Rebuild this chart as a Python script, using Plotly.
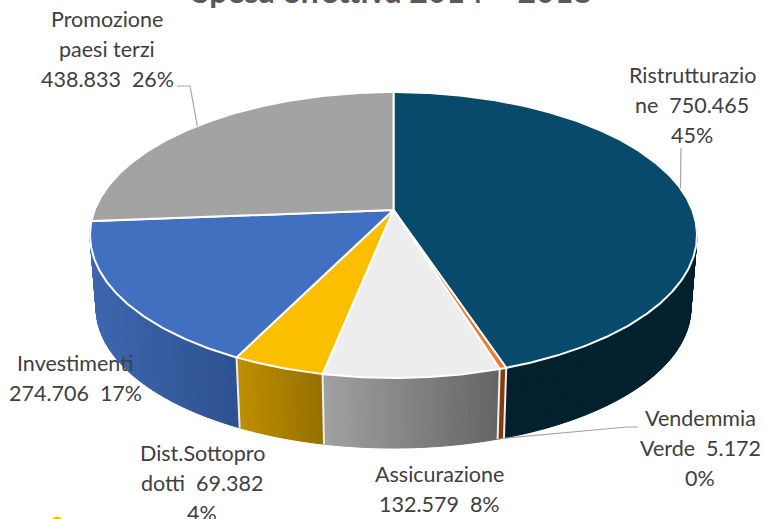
import math
import plotly.graph_objects as go

# ---- data ----
categories = ["Ristrutturazione", "Vendemmia Verde", "Assicurazione",
              "Dist.Sottoprodotti", "Investimenti", "Promozione paesi terzi"]
values = [750465, 5172, 132579, 69382, 274706, 438833]
percent_labels = ["45%", "0%", "8%", "4%", "17%", "26%"]
value_labels = ["750.465", "5.172", "132.579", "69.382", "274.706", "438.833"]
label_lines = [
    ["Ristrutturazio", "ne  750.465", "45%"],
    ["Vendemmia", "Verde  5.172", "0%"],
    ["Assicurazione", "132.579  8%"],
    ["Dist.Sottopro", "dotti  69.382", "4%"],
    ["Investimenti", "274.706  17%"],
    ["Promozione", "paesi terzi", "438.833  26%"],
]
title_text = "Spesa effettiva 2014 ÷ 2018"

# ---- styles ----
top_colors = ["#074A6C", "#ED7D31", "#EDEDED", "#FBBF00", "#4270C0", "#A3A3A3"]
side_left = ["#03202F", "#843C0C", "#A2A2A2", "#BF9000", "#3D66AE", "#8A8A8A"]
side_right = ["#03202F", "#843C0C", "#656565", "#967000", "#2E5190", "#8A8A8A"]
label_pos = [(692, 75), (700, 418), (439, 474), (202, 453), (75, 363), (107, 19)]
LINE_H = 30

# projected-disc geometry (screen px)
CX, CY, A, B, K = 393.5, 210.0, 298.8, 138.6, 0.175
BOT_S, BOT_DY = 0.98, 73.4
WALL_FROM = math.acos(-0.08)  # wall is hidden behind the top face outside this arc


def rim(theta, lower=False):
    X, Y = math.sin(theta), -math.cos(theta)
    w = 1 - K * Y
    s, dy = (BOT_S, BOT_DY) if lower else (1.0, 0.0)
    return CX + s * A * X / w, CY + dy + s * B * Y / w


def mix(c1, c2, t):
    a = [int(c1[i:i + 2], 16) for i in (1, 3, 5)]
    b = [int(c2[i:i + 2], 16) for i in (1, 3, 5)]
    return "rgb(%d,%d,%d)" % tuple(round(p + (q - p) * t) for p, q in zip(a, b))


total = sum(values)
edges = [0.0]
for v in values:
    edges.append(edges[-1] + v / total * 2 * math.pi)

fig = go.Figure()


def poly(xs, ys, fill, line=None, width=0):
    fig.add_trace(go.Scatter(x=xs, y=ys, mode="lines", fill="toself", fillcolor=fill,
                             line=dict(color=line or fill, width=width),
                             hoverinfo="skip", showlegend=False))


# side wall: thin vertical strips, walking from right to left round the front
for i, v in enumerate(values):
    a0, a1 = edges[i], edges[i + 1]
    a0c, a1c = max(a0, WALL_FROM), min(a1, 2 * math.pi - WALL_FROM)
    if a1c <= a0c:
        continue
    n = max(2, int((a1c - a0c) / 0.015))
    xl, xr = rim(a1c)[0], rim(a0c)[0]
    for j in range(n):
        t0 = a0c + (a1c - a0c) * j / n
        t1 = a0c + (a1c - a0c) * (j + 1) / n
        p0, p1 = rim(t0), rim(t1)
        q0, q1 = rim(t1, True), rim(t0, True)
        frac = (p0[0] - xl) / max(xr - xl, 1e-6)
        col = mix(side_left[i], side_right[i], frac)
        poly([p0[0], p1[0], q0[0], q1[0], p0[0]],
             [p0[1], p1[1], q0[1], q1[1], p0[1]], col, width=1)

# white seams on the front of the wall
for i in range(len(values)):
    a = edges[i + 1]
    if math.cos(a) < -0.3:
        p, q = rim(a), rim(a, True)
        fig.add_trace(go.Scatter(x=[p[0], q[0]], y=[p[1], q[1]], mode="lines",
                                 line=dict(color="#EFEFEF", width=2),
                                 hoverinfo="skip", showlegend=False))

# top faces
for i, v in enumerate(values):
    a0, a1 = edges[i], edges[i + 1]
    n = max(3, int((a1 - a0) / 0.01))
    pts = [rim(a0 + (a1 - a0) * j / n) for j in range(n + 1)]
    xs = [CX] + [p[0] for p in pts] + [CX]
    ys = [CY] + [p[1] for p in pts] + [CY]
    poly(xs, ys, top_colors[i], line="#FFFFFF", width=2)

# leader lines (end on the rim at each slice's mid angle)
mid = [(edges[i] + edges[i + 1]) / 2 for i in range(len(values))]
leaders = [
    (0, False, [(681, 148)]),
    (5, False, [(177, 86), (190, 86)]),
    (1, True, [(638, 427), (627, 427)]),
]
for idx, lower, elbows in leaders:
    e = rim(mid[idx], lower)
    fig.add_trace(go.Scatter(x=[p[0] for p in elbows] + [e[0]],
                             y=[p[1] for p in elbows] + [e[1]], mode="lines",
                             line=dict(color="#A6A6A6", width=1.2),
                             hoverinfo="skip", showlegend=False))

# the sliver of a clipped legend key at the bottom edge
fig.add_trace(go.Scatter(x=[57], y=[522], mode="markers",
                         marker=dict(color="#FFC000", size=11, line=dict(width=0)),
                         hoverinfo="skip", showlegend=False))

# labels: one annotation per line for the tight line pitch
anns = []
for lines, (lx, ly) in zip(label_lines, label_pos):
    for k, line in enumerate(lines):
        anns.append(dict(x=lx, y=ly + k * LINE_H, xref="x", yref="y", text=line,
                         showarrow=False, xanchor="center", yanchor="middle",
                         font=dict(family="Lato", size=21.5, color="#404040")))
anns.append(dict(x=392, y=1, xref="x", yref="paper", yshift=10, text=title_text, showarrow=False,
                 xanchor="center", yanchor="middle",
                 font=dict(family="Lato", size=32, color="#595959", weight="bold")))

fig.update_layout(
    width=764, height=519, margin=dict(l=0, r=0, t=0, b=0),
    paper_bgcolor="white", plot_bgcolor="white", showlegend=False,
    xaxis=dict(range=[0, 764], visible=False, fixedrange=True),
    yaxis=dict(range=[519, 0], visible=False, fixedrange=True),
    annotations=anns,
)
fig.write_html("out.html", config={"displayModeBar": False},
               post_script="document.body.style.margin='0';document.body.style.overflow='hidden';")
